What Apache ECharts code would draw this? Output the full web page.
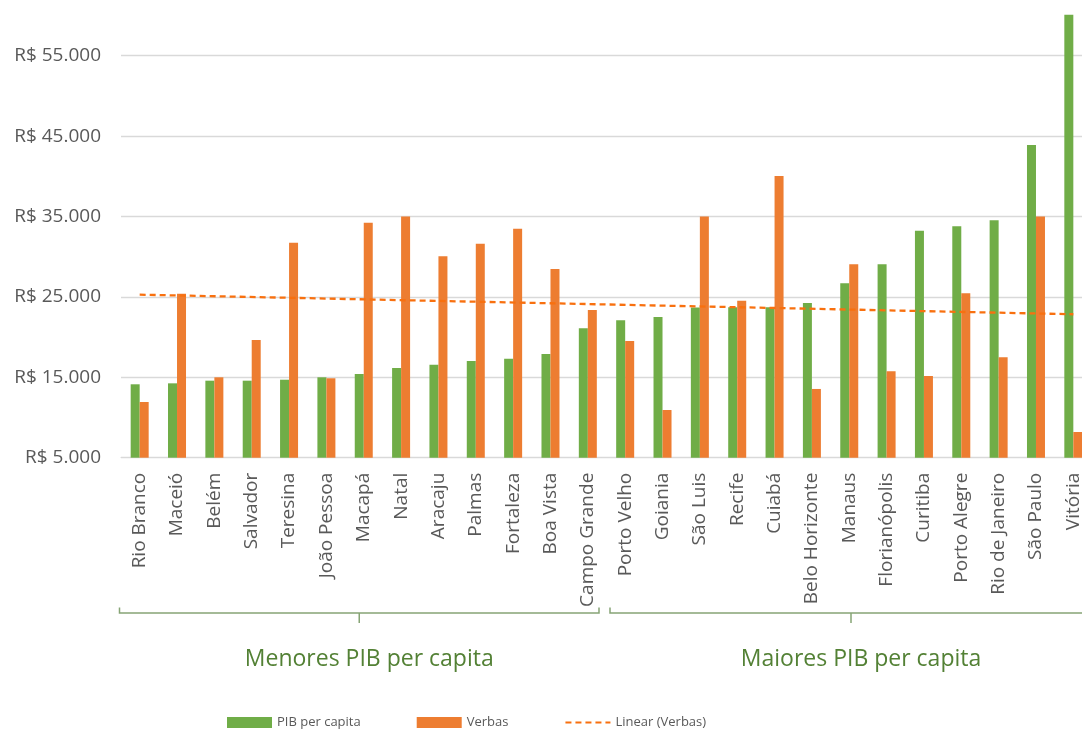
<!DOCTYPE html>
<html>
<head>
<meta charset="utf-8">
<style>
  html, body { margin: 0; padding: 0; background: #ffffff; }
  #chart { width: 1082px; height: 729px; }
</style>
<script src="https://cdn.jsdelivr.net/npm/echarts@6/dist/echarts.min.js"></script>
</head>
<body>
<div id="chart"></div>
<script>
// Capitals ordered by GDP per capita
const cities = ['Rio Branco', 'Maceió', 'Belém', 'Salvador', 'Teresina', 'João Pessoa', 'Macapá',
  'Natal', 'Aracaju', 'Palmas', 'Fortaleza', 'Boa Vista', 'Campo Grande', 'Porto Velho', 'Goiania',
  'São Luis', 'Recife', 'Cuiabá', 'Belo Horizonte', 'Manaus', 'Florianópolis', 'Curitiba',
  'Porto Alegre', 'Rio de Janeiro', 'São Paulo', 'Vitória'];

const pibPerCapita = [14130, 14250, 14580, 14580, 14700, 15000, 15410, 16160, 16570, 17030, 17320,
  17900, 21100, 22090, 22500, 23680, 23700, 23720, 24250, 26690, 29060, 33240, 33790, 34530, 43890, 60100];

const verbas = [11930, 25400, 15000, 19640, 31750, 14880, 34230, 35000, 30050, 31620, 33490, 28480,
  23370, 19520, 10930, 35000, 24530, 40040, 13550, 29060, 15750, 15160, 25450, 17490, 35000, 8200];

// Linear trend of "Verbas": values at the first and last capital
const trendEnds = [25280, 22840];

// Two groups of 13 capitals each
const groupLabels = ['Menores PIB per capita', 'Maiores PIB per capita'];
const groupSizes = [13, 13];

const yTicks = { min: 5000, max: 65000, interval: 10000 };

const seriesNames = ['PIB per capita', 'Verbas', 'Linear (Verbas)'];

const trendData = cities.map((c, i) => (i === 0 ? trendEnds[0] : (i === cities.length - 1 ? trendEnds[1] : null)));

function brl(v) {
  return 'R$ ' + String(v).replace(/\B(?=(\d{3})+(?!\d))/g, '.');
}

const FONT = '"Open Sans", "Liberation Sans", sans-serif';
const GREEN = '#70AD47';
const ORANGE = '#ED7D31';
const TREND = '#F8700F';

const chart = echarts.init(document.getElementById('chart'), null, { renderer: 'canvas' });

chart.setOption({
  animation: false,
  backgroundColor: '#ffffff',
  textStyle: { fontFamily: FONT },
  grid: { left: 121, top: -24.7, width: 971, height: 482.4, containLabel: false, outerBoundsMode: 'none' },
  legend: {
    left: 222,
    top: 711,
    itemWidth: 45,
    itemHeight: 11,
    itemGap: 56,
    textStyle: { fontFamily: FONT, fontSize: 13, color: '#595959' },
    data: [
      { name: seriesNames[0], icon: 'rect' },
      { name: seriesNames[1], icon: 'rect' },
      // dashed line only, no marker in the middle
      { name: seriesNames[2], itemStyle: { color: 'rgba(0,0,0,0)', borderWidth: 0 } }
    ]
  },
  xAxis: {
    type: 'category',
    data: cities,
    axisLine: { show: true, lineStyle: { color: '#d9d9d9', width: 1 } },
    axisTick: { show: false },
    axisLabel: {
      rotate: 90,
      interval: 0,
      margin: 15,
      fontFamily: FONT,
      fontSize: 19,
      color: '#595959'
    },
    splitLine: { show: false }
  },
  yAxis: {
    type: 'value',
    min: yTicks.min,
    max: yTicks.max,
    interval: yTicks.interval,
    axisLine: { show: false },
    axisTick: { show: false },
    axisLabel: {
      margin: 20,
      fontFamily: FONT,
      fontSize: 19,
      color: '#595959',
      showMaxLabel: false,
      formatter: brl
    },
    splitLine: { show: true, lineStyle: { color: '#d9d9d9', width: 1.3 } }
  },
  series: [
    {
      name: seriesNames[0],
      type: 'bar',
      data: pibPerCapita,
      barWidth: 9,
      barGap: '0%',
      itemStyle: { color: GREEN },
      z: 2
    },
    {
      name: seriesNames[1],
      type: 'bar',
      data: verbas,
      barWidth: 9,
      barGap: '0%',
      itemStyle: { color: ORANGE },
      z: 2
    },
    {
      name: seriesNames[2],
      type: 'line',
      data: trendData,
      connectNulls: true,
      symbol: 'none',
      lineStyle: { color: TREND, width: 2.3, type: [6, 4] },
      itemStyle: { color: TREND },
      z: 5
    }
  ]
});

// Group brackets and captions under the category labels
function drawGroups() {
  const x0 = chart.convertToPixel({ xAxisIndex: 0 }, 0);
  const x1 = chart.convertToPixel({ xAxisIndex: 0 }, 1);
  const band = x1 - x0;
  const startEdge = x0 - band / 2;
  const lineY = 613;
  const upY = 607.5;
  const downY = 623;
  const stroke = { stroke: '#86A475', lineWidth: 1.5 };
  const insets = [[-1.5, 7.5], [3.5, 0]];
  const elements = [];
  let first = 0;
  groupSizes.forEach((size, g) => {
    const left = startEdge + first * band + insets[g][0];
    const right = startEdge + (first + size) * band - insets[g][1];
    const mid = (left + right) / 2;
    elements.push({
      type: 'polyline',
      shape: { points: [[left, upY], [left, lineY], [right, lineY], [right, upY]] },
      style: Object.assign({ fill: null }, stroke),
      silent: true
    });
    elements.push({
      type: 'line',
      shape: { x1: mid, y1: lineY, x2: mid, y2: downY },
      style: stroke,
      silent: true
    });
    elements.push({
      type: 'text',
      x: mid + 10,
      y: 659,
      style: {
        text: groupLabels[g],
        fontFamily: FONT,
        fontSize: 23,
        fill: '#538135',
        align: 'center',
        verticalAlign: 'middle'
      },
      silent: true
    });
    first += size;
  });
  chart.setOption({ graphic: { elements: elements } });
}
drawGroups();
</script>
</body>
</html>
